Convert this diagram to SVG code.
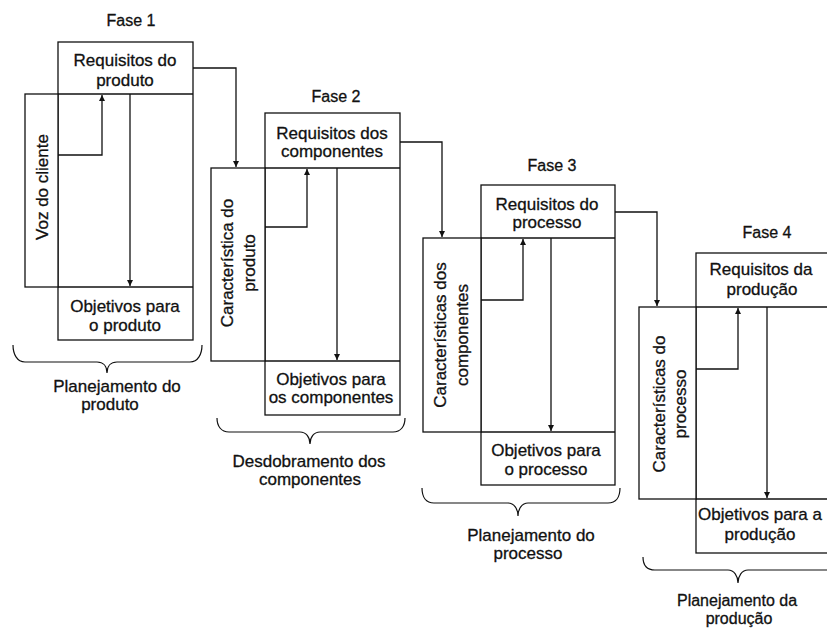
<svg xmlns="http://www.w3.org/2000/svg" width="827" height="628" viewBox="0 0 827 628">
<defs>
<marker id="ah" markerUnits="userSpaceOnUse" markerWidth="7" markerHeight="7" refX="6" refY="3" orient="auto">
<path d="M0,0 L6,3 L0,6 z" fill="#111"/>
</marker>
<style>
.b{fill:#fff;stroke:#111;stroke-width:1.3}
.l{fill:none;stroke:#111;stroke-width:1.3}
.c{fill:none;stroke:#111;stroke-width:1.3;marker-end:url(#ah)}
.br{fill:none;stroke:#111;stroke-width:1.2}
text{font-family:"Liberation Sans",Arial,sans-serif;font-size:17px;fill:#111;stroke:#111;stroke-width:0.3;text-anchor:middle}
.f{font-size:16px}
.s{font-size:16px}
</style>
</defs>
<rect width="827" height="628" fill="#fff"/>

<g id="fase1">
<text class="f" x="131" y="26">Fase 1</text>
<rect class="b" x="58" y="42" width="135" height="298"/>
<rect class="b" x="25" y="94" width="33" height="193"/>
<line class="l" x1="58" y1="94" x2="193" y2="94"/>
<line class="l" x1="58" y1="287" x2="193" y2="287"/>
<text x="125" y="66">Requisitos do</text>
<text x="125" y="86">produto</text>
<text transform="translate(48,187) rotate(-90)">Voz do cliente</text>
<text x="125" y="312">Objetivos para</text>
<text x="125" y="331">o produto</text>
<path class="br" d="M13,345 C13,354 17,362 25,362 L97,362 C103,362 107,366 107,373 C107,366 111,362 117,362 L190,362 C198,362 202,354 202,345"/>
<text x="117" y="392">Planejamento do</text>
<text x="110" y="410">produto</text>
</g>

<g id="fase2">
<text class="f" x="336" y="102">Fase 2</text>
<rect class="b" x="265" y="113" width="135" height="302"/>
<rect class="b" x="211" y="168" width="54" height="193"/>
<line class="l" x1="265" y1="168" x2="400" y2="168"/>
<line class="l" x1="265" y1="361" x2="400" y2="361"/>
<text x="332" y="139">Requisitos dos</text>
<text x="332" y="157">componentes</text>
<text transform="translate(233,263) rotate(-90)">Característica do</text>
<text transform="translate(255,263) rotate(-90)">produto</text>
<text x="331" y="385">Objetivos para</text>
<text x="331" y="403">os componentes</text>
<path class="br" d="M217,418 C217,426 221,432 229,432 L300,432 C306,432 310,437 310,444 C310,437 314,432 320,432 L393,432 C401,432 405,426 405,418"/>
<text x="309" y="467">Desdobramento dos</text>
<text x="310" y="485">componentes</text>
</g>

<g id="fase3">
<text class="f" x="552" y="171">Fase 3</text>
<rect class="b" x="481" y="185" width="134" height="300"/>
<rect class="b" x="423" y="238" width="58" height="194"/>
<line class="l" x1="481" y1="238" x2="615" y2="238"/>
<line class="l" x1="481" y1="432" x2="615" y2="432"/>
<text x="547" y="210">Requisitos do</text>
<text x="547" y="228">processo</text>
<text transform="translate(446,335) rotate(-90)">Características dos</text>
<text transform="translate(468,335) rotate(-90)">componentes</text>
<text x="546" y="456">Objetivos para</text>
<text x="546" y="475">o processo</text>
<path class="br" d="M422,488 C422,497 426,503 434,503 L508,503 C514,503 518,509 518,516 C518,509 522,503 528,503 L608,503 C616,503 620,497 620,488"/>
<text x="531" y="541">Planejamento do</text>
<text x="528" y="559">processo</text>
</g>

<g id="fase4">
<text class="f" x="767" y="238">Fase 4</text>
<rect class="b" x="696" y="253" width="140" height="300"/>
<rect class="b" x="639" y="307" width="57" height="192"/>
<line class="l" x1="696" y1="307" x2="836" y2="307"/>
<line class="l" x1="696" y1="499" x2="836" y2="499"/>
<text x="761" y="275">Requisitos da</text>
<text x="762" y="295">produção</text>
<text transform="translate(665,404) rotate(-90)">Características do</text>
<text transform="translate(686,404) rotate(-90)">processo</text>
<text x="760" y="520">Objetivos para a</text>
<text x="760" y="540">produção</text>
<path class="br" d="M643,557 C643,565 647,570 655,570 L728,570 C734,570 738,576 738,583 C738,576 742,570 748,570 L840,570"/>
<text class="s" x="737" y="606">Planejamento da</text>
<text class="s" x="739" y="624">produção</text>
</g>

<g id="connectors">
<path class="c" d="M58,155 H102 V95"/>
<path class="c" d="M130,94 V286"/>
<path class="c" d="M193,68 H236 V167"/>
<path class="c" d="M265,227 H307 V169"/>
<path class="c" d="M337,168 V360"/>
<path class="c" d="M400,142 H442 V237"/>
<path class="c" d="M481,300 H523 V239"/>
<path class="c" d="M551,238 V431"/>
<path class="c" d="M615,212 H657 V306"/>
<path class="c" d="M696,369 H738 V308"/>
<path class="c" d="M767,307 V498"/>
</g>
</svg>
